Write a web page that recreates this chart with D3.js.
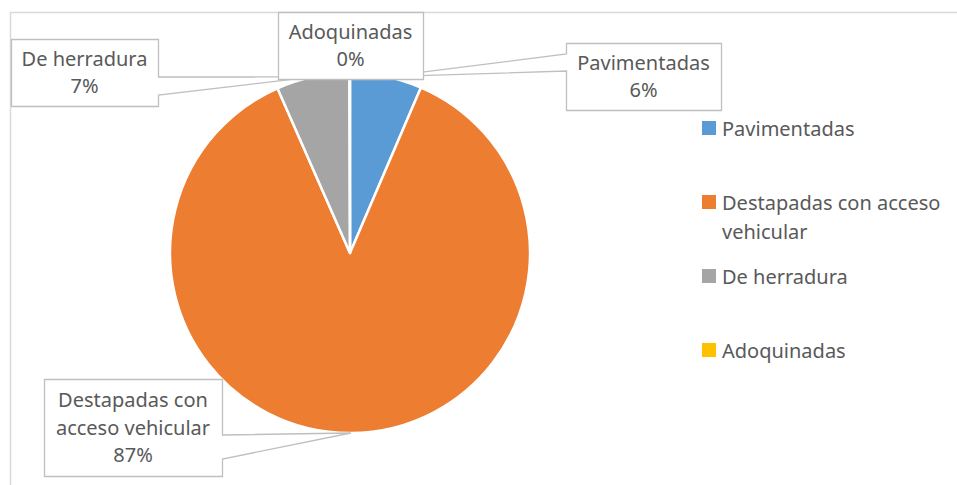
<!DOCTYPE html>
<html>
<head>
<meta charset="utf-8">
<script src="https://cdn.jsdelivr.net/npm/d3@7"></script>
<style>
  html, body { margin: 0; padding: 0; background: #fff; }
  svg { display: block; font-family: "Noto Sans", sans-serif; }
</style>
</head>
<body>
<svg id="chart" width="957" height="485"></svg>
<script>
// data
const categories = ["Pavimentadas", "Destapadas con acceso vehicular", "De herradura", "Adoquinadas"];
const shares = [6.45, 86.95, 6.55, 0.05];
const pctLabels = ["6%", "87%", "7%", "0%"];
const colors = ["#5b9bd5", "#ed7d31", "#a5a5a5", "#ffc000"];

// label text lines (wrapped as in the reference)
const labelLines = [
  ["Pavimentadas"],
  ["Destapadas con", "acceso vehicular"],
  ["De herradura"],
  ["Adoquinadas"],
];
const legendLines = [["Pavimentadas"], ["Destapadas con acceso", "vehicular"], ["De herradura"], ["Adoquinadas"]];

// callout box layout (x, y, w, h, pointer side, pointer base along edge)
const callouts = [
  { i: 0, x: 566, y: 43, w: 155, h: 67, side: "left", b0: 54, b1: 71 },
  { i: 1, x: 44, y: 379, w: 178, h: 97, side: "right", b0: 435, b1: 459 },
  { i: 2, x: 11, y: 39, w: 147, h: 67, side: "right", b0: 77, b1: 95 },
  { i: 3, x: 278, y: 12, w: 145, h: 67, side: null },
];

const svg = d3.select("#chart");
const cx = 350, cy = 253, r = 180;
const textColor = "#595959";

// outer chart frame
svg.append("rect")
  .attr("x", 10.5).attr("y", 12.5)
  .attr("width", 980).attr("height", 500)
  .attr("fill", "none").attr("stroke", "#d9d9d9").attr("stroke-width", 1.5);

const pie = d3.pie().sort(null).value((d) => d)(shares);
const arc = d3.arc().innerRadius(0).outerRadius(r);

const g = svg.append("g").attr("transform", `translate(${cx},${cy})`);
g.selectAll("path")
  .data(pie)
  .join("path")
  .attr("d", arc)
  .attr("fill", (d, i) => colors[i])
  .attr("stroke", "#fff")
  .attr("stroke-width", 2.5)
  .attr("stroke-linejoin", "round");

// point on the rim at the middle of a slice
function rimPoint(d) {
  const a = (d.startAngle + d.endAngle) / 2;
  return [cx + r * Math.sin(a), cy - r * Math.cos(a)];
}

const lineH = 27.5;
callouts.forEach((c) => {
  const [tx, ty] = rimPoint(pie[c.i]);
  const x0 = c.x + 0.5, y0 = c.y + 0.5, x1 = c.x + c.w + 0.5, y1 = c.y + c.h + 0.5;
  let p;
  if (c.side === "right") {
    p = `M${x0},${y0}H${x1}V${c.b0}L${tx},${ty}L${x1},${c.b1}V${y1}H${x0}Z`;
  } else if (c.side === "left") {
    p = `M${x0},${y0}H${x1}V${y1}H${x0}V${c.b1}L${tx},${ty}L${x0},${c.b0}Z`;
  } else {
    p = `M${x0},${y0}H${x1}V${y1}H${x0}Z`;
  }
  svg.append("path")
    .attr("d", p)
    .attr("fill", "#fff")
    .attr("stroke", "#bfbfbf")
    .attr("stroke-width", 1.3);

  const lines = [...labelLines[c.i], pctLabels[c.i]];
  const midY = c.y + c.h / 2;
  const firstBase = midY - ((lines.length - 1) * lineH) / 2 + 7;
  const t = svg.append("text")
    .attr("fill", textColor)
    .attr("font-size", 20)
    .attr("text-anchor", "middle");
  lines.forEach((s, k) => {
    t.append("tspan")
      .attr("x", c.x + c.w / 2)
      .attr("y", firstBase + k * lineH)
      .text(s);
  });
});

// legend
const legendTop = [121, 195, 269, 343];
const leg = svg.append("g");
categories.forEach((name, i) => {
  leg.append("rect")
    .attr("x", 702).attr("y", legendTop[i])
    .attr("width", 14).attr("height", 14)
    .attr("fill", colors[i]);
  const t = leg.append("text")
    .attr("fill", textColor)
    .attr("font-size", 20);
  legendLines[i].forEach((s, k) => {
    t.append("tspan")
      .attr("x", 722)
      .attr("y", legendTop[i] + 15 + k * 29)
      .text(s);
  });
});
</script>
</body>
</html>
